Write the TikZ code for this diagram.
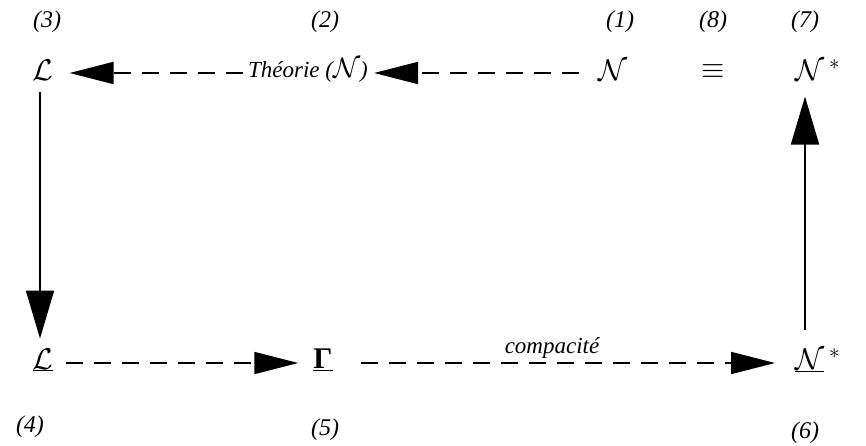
\RequirePackage{fix-cm}
\documentclass[tikz,border=0pt]{standalone}
\usepackage{fontspec}
\setmainfont{Liberation Serif}
\usetikzlibrary{arrows.meta}
\begin{document}
\begin{tikzpicture}[x=1pt,y=-1pt,
  every node/.style={font=\fontsize{23}{27}\selectfont\itshape, inner sep=0pt},
  sym/.style={font=\fontsize{30}{34}\selectfont},
  lbl/.style={font=\fontsize{24}{28}\selectfont\itshape},
  dasharrow/.style={line width=1.8pt, dash pattern=on 17pt off 11pt, -{Triangle[length=44pt,width=22pt]}},
  solidarrow/.style={line width=1.8pt, -{Triangle[length=48pt,width=28pt]}}]
\useasboundingbox (0,0) rectangle (866,446);
% labels
\node[lbl] (n3) at (47,22) {(3)};
\node[lbl] (n2) at (325,22) {(2)};
\node[lbl] (n1) at (620,22) {(1)};
\node[lbl] (n8) at (713,22) {(8)};
\node[lbl] (n7) at (805,22) {(7)};
\node[lbl] (n4) at (30,427) {(4)};
\node[lbl] (n5) at (325,430) {(5)};
\node[lbl] (n6) at (805,433) {(6)};
% main nodes
\node[sym] (L3) at (43,70) {$\mathcal{L}$};
\node (Th) at (308,70) {Théorie ({\fontsize{28}{30}\selectfont$\mathcal{N}$})};
\node[sym] (N1) at (613,70) {$\mathcal{N}$};
\node[sym] (eq) at (713,72) {$\equiv$};
\node[sym, anchor=west] (N7) at (795,70) {$\mathcal{N}\,^*$};
\node[sym] (L4) at (43,360) {$\underline{\mathcal{L}}$};
\node[sym] (G) at (323,360) {\underline{\bfseries Γ}};
\node[sym, anchor=west] (N6) at (795,360) {$\underline{\mathcal{N}}\,^*$};
\node (comp) at (552,348) {compacité};
% connectors
\draw[dasharrow, shorten <=5pt, shorten >=16pt] (Th.west |- 0,73) -- (L3.east |- 0,73);
\draw[dasharrow, shorten <=19pt, shorten >=6pt] (N1.west |- 0,73) -- (Th.east |- 0,73);
\draw[solidarrow, shorten <=12pt, shorten >=10pt] (L3.south -| 40,0) -- (L4.north -| 40,0);
\draw[dasharrow, shorten <=12pt, shorten >=15pt] (L4.east |- 0,363) -- (G.west |- 0,363);
\draw[dasharrow, shorten <=28pt, shorten >=20pt] (G.east |- 0,363) -- (N6.west |- 0,363);
\draw[solidarrow, shorten <=18pt, shorten >=16pt] (N6.north -| 805,0) -- (N7.south -| 805,0);
\end{tikzpicture}
\end{document}
